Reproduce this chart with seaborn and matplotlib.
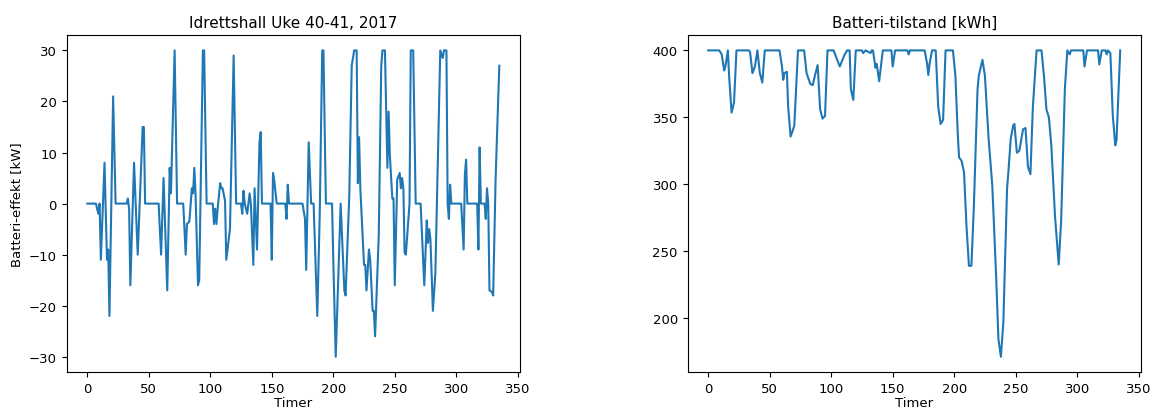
import matplotlib
matplotlib.use('Agg')
from matplotlib import pyplot as plt
import seaborn as sns

# battery power [kW], vertices
effekt_timer = [0, 7, 9, 10, 11, 14, 16, 17, 18, 21, 23, 32, 33, 34, 35, 38, 41, 45, 46, 47,
                58, 60, 62, 65, 67, 68, 71, 73, 78, 80, 81, 83, 85, 86, 87, 88, 90, 91, 94, 95,
                97, 102, 103, 104, 105, 106, 108, 109, 110, 112, 113, 116, 119, 121, 125, 126,
                127, 128, 130, 132, 133, 135, 136, 138, 140, 141, 142, 149, 150, 151, 152, 154,
                161, 162, 163, 164, 175, 177, 178, 180, 182, 184, 187, 189, 191, 192, 194, 199,
                200, 202, 206, 209, 210, 213, 215, 217, 219, 220, 221, 222, 225, 226, 227, 229,
                230, 232, 233, 234, 237, 239, 240, 242, 244, 245, 246, 248, 249, 250, 252, 254,
                255, 256, 257, 258, 259, 262, 263, 265, 267, 271, 274, 276, 277, 278, 279, 281,
                283, 287, 289, 290, 292, 293, 294, 295, 296, 304, 306, 307, 308, 309, 317, 318,
                319, 320, 323, 324, 325, 326, 327, 329, 330, 332, 335]
effekt = [0, 0, -2, 0, -11, 8, -11, -9, -22, 21, 0, 0, 1, -1, -16, 8, -10, 15, 15, 0,
          0, -10, 5, -17, 7, 2, 30, 0, 0, -10, -4, -3.5, 3, 2, 7, 2, -16, -15, 30, 30,
          0, 0, -4, -1, -4, -1, 4, 3, 3, 0.5, -11, -5, 29, 0, 0, -2,
          2.5, 0, -2, 2, 0, -12, 3, -9, 12, 14, 0, 0, -11, 6, 4.5, 0,
          0, -3, 3.7, 0, 0, -3, -13, 12, 0, 0, -22, -2, 30, 30, 0, 0,
          -11, -30, 0, -17, -18, 1.5, 27, 30, 30, 4, 13, 3, -12, -12, -17, -9,
          -11, -21, -21, -26, -6, 27, 30, 30, 7, 18, 9.5, 1, 1, -16, 4.7, 6,
          3, 5, 3, -9.6, -10, 0, 30, 30, 0, 0, -16, -3.3, -7.7, -5, -7, -21,
          -13.6, 30, 28.5, 30, 30, 0, -3, 3.7, 0, 0, -9, 5.7, 8.6, 0, 0, -9,
          11, 0, 0, -3, 3, 0, -17, -17.3, -18, 5, 27]

# battery state [kWh], vertices
tilstand_timer = [0, 9, 11, 13, 14, 16, 17, 19, 21, 23, 33, 34, 36, 38, 40, 42, 44, 46, 58, 60,
                  61, 62, 64, 65, 67, 70, 73, 78, 80, 83, 85, 87, 89, 91, 93, 95, 97, 102, 104,
                  107, 111, 113, 115, 116, 118, 120, 125, 126, 128, 132, 133, 134, 136, 137, 139,
                  142, 149, 150, 152, 162, 163, 164, 176, 178, 179, 180, 182, 185, 187, 189, 191,
                  193, 199, 201, 203, 204, 206, 208, 210, 212, 214, 216, 219, 220, 223, 225, 228,
                  231, 234, 236, 238, 240, 243, 244, 246, 248, 249, 251, 253, 256, 258, 260, 262,
                  264, 267, 271, 273, 275, 277, 279, 282, 285, 287, 290, 292, 294, 295, 305, 306,
                  308, 317, 318, 320, 323, 324, 325, 327, 329, 331, 332, 335]
tilstand = [400, 400, 397, 385, 388, 400, 381, 353.5, 361, 400, 400, 399, 383, 388, 400, 383, 376, 400, 400, 388,
            378, 383, 384, 358, 335.6, 343.5, 400, 400, 383, 375, 374, 382, 389, 356, 349, 351, 400, 400, 395,
            388, 397, 400, 400, 371, 363, 400, 400, 398, 400, 398, 400, 400, 387, 390, 377,
            400, 400, 388, 400, 400, 397, 400, 400, 390, 381.6, 390, 400, 400, 358, 345, 348,
            400, 400, 381, 336, 320, 317.5, 309, 269, 239, 239, 283, 371, 381, 393, 381, 334,
            299, 234, 184, 171, 197, 296.5, 308, 334, 344, 345, 323.5, 325, 341, 342, 313, 307.5,
            358, 400, 400, 381, 356, 350, 329, 276, 240, 273, 371, 400, 397, 400, 400, 388,
            400, 400, 389.5, 400, 400, 397, 400, 398, 351, 329, 333, 400]


def plot():
    plt.rcParams['xtick.labelsize'] = 9.5
    plt.rcParams['ytick.labelsize'] = 9.5
    plt.rcParams['axes.labelsize'] = 9.5
    plt.rcParams['axes.titlesize'] = 11

    fig, axes = plt.subplots(1, 2, figsize=(11.5, 4.1), dpi=100)
    fig.subplots_adjust(left=0.058, right=0.992, bottom=0.09, top=0.912, wspace=0.37)

    sns.lineplot(x=effekt_timer, y=effekt, ax=axes[0], estimator=None, color='#1f77b4', linewidth=1.5)
    axes[0].set(title='Idrettshall Uke 40-41, 2017', ylabel='Batteri-effekt [kW]')

    sns.lineplot(x=tilstand_timer, y=tilstand, ax=axes[1], estimator=None, color='#1f77b4', linewidth=1.5)
    axes[1].set(title='Batteri-tilstand [kWh]')

    for ax in axes:
        ax.set_xticks(range(0, 351, 50))
        ax.margins(x=0.05, y=0.05)
        ax.set_xlabel('Timer', labelpad=1)

    plt.savefig('out.png')


plot()
